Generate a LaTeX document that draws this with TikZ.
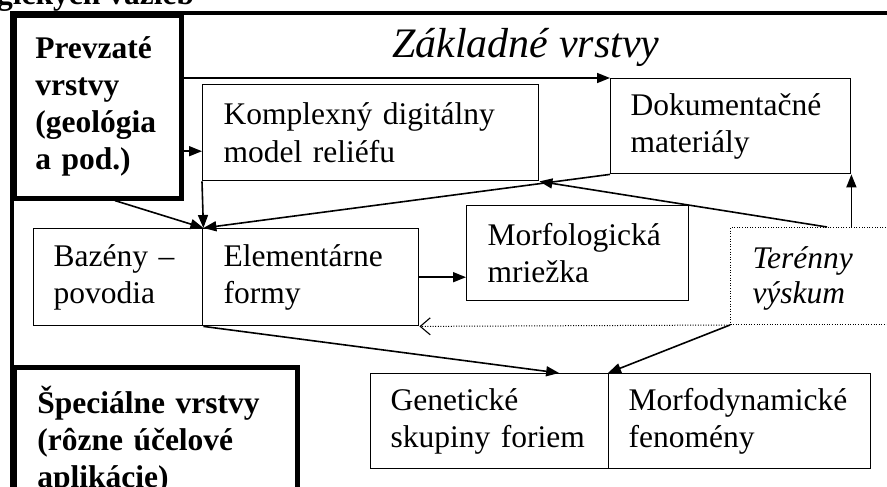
\documentclass[tikz,border=0pt]{standalone}
\usepackage{fontspec}
\setmainfont{Liberation Serif}
\usetikzlibrary{arrows.meta,calc}

\begin{document}
\begin{tikzpicture}[x=1pt,y=-1pt,
    every node/.style={inner sep=0pt},
    vrstva/.style={draw,line width=1.4pt,anchor=north west,align=left,inner ysep=0pt,
      font=\fontsize{31.5}{37.5}\selectfont},
    hrubavrstva/.style={vrstva,line width=4.6pt,font=\bfseries\fontsize{31.5}{37}\selectfont},
    terenvrstva/.style={vrstva,line width=1pt,dash pattern=on 1pt off 1.6pt,
      font=\itshape\fontsize{31.5}{35}\selectfont},
    sipka/.style={line width=1.6pt,-{Triangle[length=13pt,width=10pt]}},
    bodkovana/.style={line width=1pt,dash pattern=on 1pt off 1.6pt,
      -{Straight Barb[length=10pt,width=17pt,line width=1.1pt]}}]
  \useasboundingbox (0,0) rectangle (887,487);
  \clip (0,0) rectangle (887,487);
  % ramec
  \draw [line width=4.6pt] (12,540) -- (12,13) -- (900,13);
  \node [font=\bfseries\fontsize{31.5}{37}\selectfont,anchor=base west] (titul) at (-3,5) {gických väzieb};
  \node [font=\itshape\fontsize{42}{48}\selectfont,anchor=base west] (zaklad) at (392,58) {Základné vrstvy};
  % vrstvy
  \node [hrubavrstva,minimum width=167pt,minimum height=183pt,inner xsep=21pt,text width=125pt] (prevzate) at (12,13)
    {Prevzaté\\vrstvy\\(geológia\\a pod.)};
  \node [vrstva,minimum width=336pt,minimum height=96pt,inner xsep=21pt,text width=294pt] (kdmr) at (202,84)
    {Komplexný digitálny\\model reliéfu};
  \node [vrstva,minimum width=240pt,minimum height=95pt,inner xsep=20pt,text width=200pt] (dokum) at (610,78)
    {Dokumentačné\\materiály};
  \node [vrstva,minimum width=169pt,minimum height=97pt,inner xsep=20pt,text width=129pt] (bazeny) at (33,228)
    {Bazény –\\povodia};
  \node [vrstva,minimum width=216pt,minimum height=97pt,inner xsep=21pt,text width=174pt] (element) at (202,228)
    {Elementárne\\formy};
  \node [vrstva,minimum width=222pt,minimum height=95pt,inner xsep=21pt,text width=180pt] (morfol) at (466,205)
    {Morfologická\\mriežka};
  \node [terenvrstva,minimum width=180pt,minimum height=97pt,inner xsep=22pt,text width=136pt] (teren) at (730,227)
    {\rule{0pt}{26pt}Terénny\\výskum};
  \node [vrstva,minimum width=238pt,minimum height=95pt,inner xsep=20pt,text width=198pt] (genet) at (370,373)
    {Genetické\\skupiny foriem};
  \node [vrstva,minimum width=262pt,minimum height=95pt,inner xsep=20pt,text width=222pt] (morfodyn) at (608,373)
    {Morfodynamické\\fenomény};
  \node [hrubavrstva,minimum width=283pt,minimum height=145pt,inner xsep=23pt,text width=237pt] (special) at (12,365)
    {Špeciálne vrstvy\\(rôzne účelové\\aplikácie)};
  % vazby
  \coordinate (kdmrvstup) at ($(kdmr.south west)!0.31!(kdmr.north west)$);
  \coordinate (prevzatedole) at ($(prevzate.south west)!0.6!(prevzate.south east)$);
  \coordinate (terenhore) at ($(teren.north west)+(97,0)$);
  \coordinate (genethore) at ($(genet.north west)!0.79!(genet.north east)$);
  \draw [sipka] (prevzate.east |- dokum.north west) -- (dokum.north west);
  \draw [sipka] (prevzate.east |- kdmrvstup) -- (kdmrvstup);
  \draw [sipka] (kdmr.south west) -- (bazeny.north east);
  \draw [sipka] (prevzatedole) -- (bazeny.north east);
  \draw [sipka] (dokum.south west) -- (bazeny.north east);
  \draw [sipka] (terenhore) -- (kdmr.south east);
  \draw [sipka] (dokum.south east |- teren.north) -- (dokum.south east);
  \draw [sipka] (element.east) -- (element.east -| morfol.west);
  \draw [bodkovana] (teren.south west) -- (element.south east);
  \draw [sipka] (bazeny.south east) -- (genethore);
  \draw [sipka] (teren.south west) -- (morfodyn.north west);
\end{tikzpicture}
\end{document}
